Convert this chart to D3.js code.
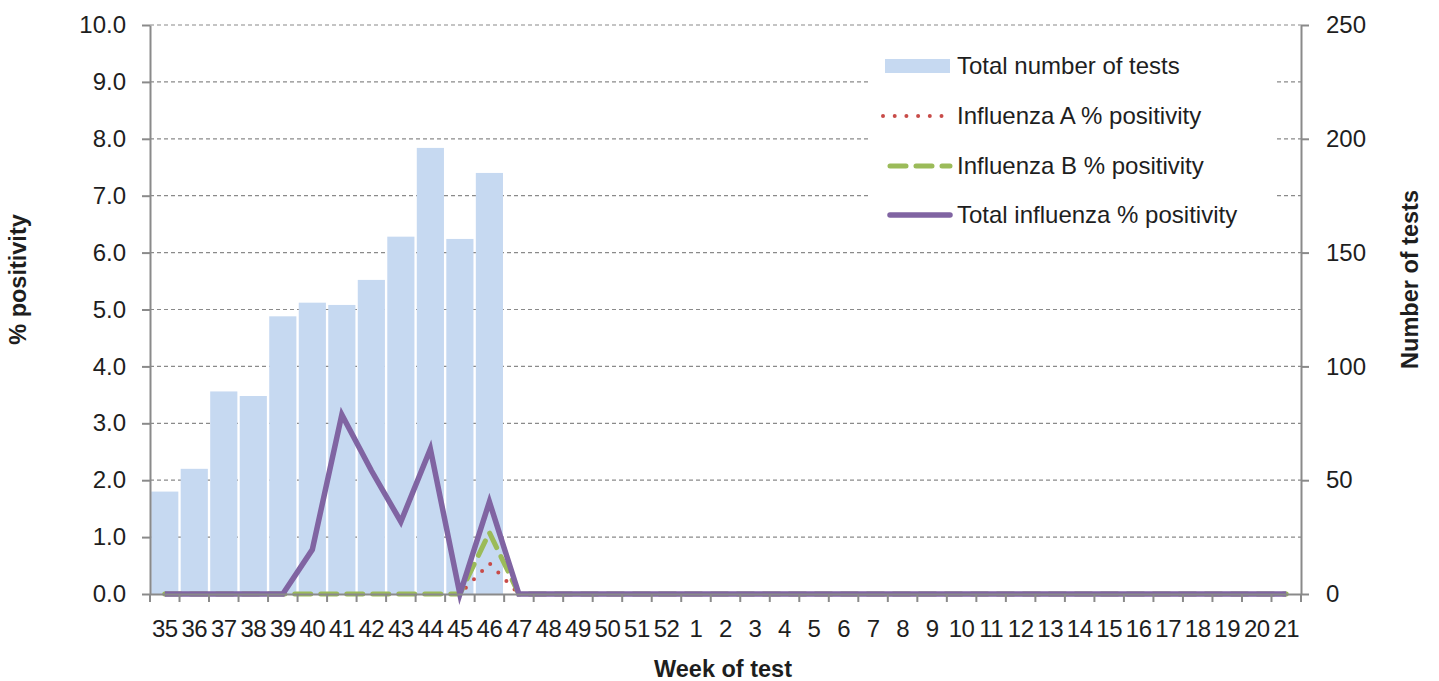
<!DOCTYPE html>
<html>
<head>
<meta charset="utf-8">
<script src="https://cdn.jsdelivr.net/npm/d3@7"></script>
<style>
  body { margin: 0; background: #ffffff; }
  text { font-family: "Liberation Sans", Arial, sans-serif; fill: #1e1e1e; }
</style>
</head>
<body>
<div id="chart"></div>
<script>
const weeks = ["35","36","37","38","39","40","41","42","43","44","45","46","47","48","49","50","51","52",
  "1","2","3","4","5","6","7","8","9","10","11","12","13","14","15","16","17","18","19","20","21"];
const totalTests = [45, 55, 89, 87, 122, 128, 127, 138, 157, 196, 156, 185];
const fluA = [0, 0, 0, 0, 0, 0.78, 3.15, 2.17, 1.27, 2.55, 0, 0.54, 0, 0, 0, 0, 0, 0,
  0, 0, 0, 0, 0, 0, 0, 0, 0, 0, 0, 0, 0, 0, 0, 0, 0, 0, 0, 0, 0];
const fluB = [0, 0, 0, 0, 0, 0, 0, 0, 0, 0, 0, 1.08, 0, 0, 0, 0, 0, 0,
  0, 0, 0, 0, 0, 0, 0, 0, 0, 0, 0, 0, 0, 0, 0, 0, 0, 0, 0, 0, 0];
const fluTotal = [0, 0, 0, 0, 0, 0.78, 3.15, 2.17, 1.27, 2.55, 0, 1.62, 0, 0, 0, 0, 0, 0,
  0, 0, 0, 0, 0, 0, 0, 0, 0, 0, 0, 0, 0, 0, 0, 0, 0, 0, 0, 0, 0];
const pctTicks = [0, 1, 2, 3, 4, 5, 6, 7, 8, 9, 10];
const testTicks = [0, 50, 100, 150, 200, 250];
const legendItems = ["Total number of tests", "Influenza A % positivity", "Influenza B % positivity", "Total influenza % positivity"];

const width = 1439, height = 681;
const margin = { top: 25, right: 138, bottom: 87, left: 150 };
const axisColor = "#8a8a8a";
const fontSize = 24;
const titleSize = 23.5;

const svg = d3.select("#chart").append("svg")
  .attr("width", width)
  .attr("height", height);

const x = d3.scaleBand()
  .domain(weeks)
  .range([margin.left, width - margin.right])
  .paddingInner(0.08)
  .paddingOuter(0.04);

const yPct = d3.scaleLinear().domain([0, 10]).range([height - margin.bottom, margin.top]);
const yTests = d3.scaleLinear().domain([0, 250]).range([height - margin.bottom, margin.top]);
const gap = x.step() - x.bandwidth();
const cx = (i) => x(weeks[i]) + x.bandwidth() / 2;

// gridlines
svg.append("g")
  .selectAll("line")
  .data(pctTicks.slice(1))
  .join("line")
  .attr("x1", margin.left)
  .attr("x2", width - margin.right)
  .attr("y1", (d) => yPct(d))
  .attr("y2", (d) => yPct(d))
  .style("stroke", axisColor)
  .style("stroke-width", 1.2)
  .style("stroke-dasharray", "4 3");

// bars
svg.append("g")
  .selectAll("rect")
  .data(totalTests)
  .join("rect")
  .attr("x", (d, i) => x(weeks[i]))
  .attr("y", (d) => yTests(d))
  .attr("width", x.bandwidth())
  .attr("height", (d) => yTests(0) - yTests(d))
  .style("fill", "#c6d9f1");

// lines
const series = [
  { values: fluA, color: "#c84b48", width: 4, dash: "0 11.7", cap: "round" },
  { values: fluB, color: "#9bbb59", width: 5, dash: "16 10", cap: "round" },
  { values: fluTotal, color: "#8064a2", width: 5.5, dash: null, cap: "butt" },
];
const line = d3.line()
  .x((d, i) => cx(i))
  .y((d) => yPct(d));

series.forEach((s) => {
  svg.append("path")
    .datum(s.values)
    .attr("d", line)
    .style("fill", "none")
    .style("stroke", s.color)
    .style("stroke-width", s.width)
    .style("stroke-linecap", s.cap)
    .style("stroke-linejoin", "miter")
    .style("stroke-dasharray", s.dash);
});

// left axis
const leftAxis = svg.append("g")
  .attr("transform", `translate(${margin.left},0)`)
  .call(d3.axisLeft(yPct).tickValues(pctTicks).tickFormat(d3.format(".1f")).tickSize(8).tickSizeOuter(0).tickPadding(16));

// right axis
const rightAxis = svg.append("g")
  .attr("transform", `translate(${width - margin.right},0)`)
  .call(d3.axisRight(yTests).tickValues(testTicks).tickSize(8).tickSizeOuter(0).tickPadding(17));

// bottom axis (labels only, boundary ticks drawn separately)
const bottomAxis = svg.append("g")
  .attr("transform", `translate(0,${height - margin.bottom})`)
  .call(d3.axisBottom(x).tickSize(0).tickSizeOuter(0).tickPadding(26));

svg.append("g")
  .selectAll("line")
  .data(weeks.concat(["end"]))
  .join("line")
  .attr("x1", (d, i) => i < weeks.length ? x(d) - gap / 2 : width - margin.right)
  .attr("x2", (d, i) => i < weeks.length ? x(d) - gap / 2 : width - margin.right)
  .attr("y1", height - margin.bottom)
  .attr("y2", height - margin.bottom + 8)
  .style("stroke", axisColor)
  .style("stroke-width", 2);

[leftAxis, rightAxis, bottomAxis].forEach((g) => {
  g.selectAll("path, line").style("stroke", axisColor).style("stroke-width", 2);
  g.selectAll("text").style("font-size", `${fontSize}px`).style("fill", "#1e1e1e")
    .attr("font-family", null);
});
bottomAxis.selectAll("text").style("letter-spacing", "-0.5px");

// axis titles
svg.append("text")
  .attr("transform", `translate(26,${(margin.top + height - margin.bottom) / 2 - 30}) rotate(-90)`)
  .attr("text-anchor", "middle")
  .style("font-size", `${titleSize}px`)
  .style("font-weight", "bold")
  .text("% positivity");

svg.append("text")
  .attr("transform", `translate(1418,${(margin.top + height - margin.bottom) / 2 - 30}) rotate(-90)`)
  .attr("text-anchor", "middle")
  .style("font-size", `${titleSize}px`)
  .style("font-weight", "bold")
  .text("Number of tests");

svg.append("text")
  .attr("x", 723)
  .attr("y", 677)
  .attr("text-anchor", "middle")
  .style("font-size", `${titleSize}px`)
  .style("font-weight", "bold")
  .text("Week of test");

// legend
const legend = svg.append("g").attr("transform", "translate(868,40)");
legend.append("rect")
  .attr("width", 408)
  .attr("height", 196)
  .style("fill", "#ffffff");

const rowY = [26, 76, 126, 175];
legendItems.forEach((label, i) => {
  const row = legend.append("g").attr("transform", `translate(0,${rowY[i]})`);
  if (i === 0) {
    row.append("rect")
      .attr("x", 17).attr("y", -7)
      .attr("width", 65).attr("height", 14)
      .style("fill", "#c6d9f1");
  } else {
    const s = series[i - 1];
    row.append("line")
      .attr("x1", i === 1 ? 15 : 22).attr("x2", 82)
      .attr("y1", 0).attr("y2", 0)
      .style("stroke", s.color)
      .style("stroke-width", s.width)
      .style("stroke-linecap", s.cap === "butt" ? "round" : s.cap)
      .style("stroke-dasharray", s.dash);
  }
  row.append("text")
    .attr("x", 89)
    .attr("y", 0)
    .attr("dy", "0.35em")
    .style("font-size", `${fontSize}px`)
    .text(label);
});
</script>
</body>
</html>
